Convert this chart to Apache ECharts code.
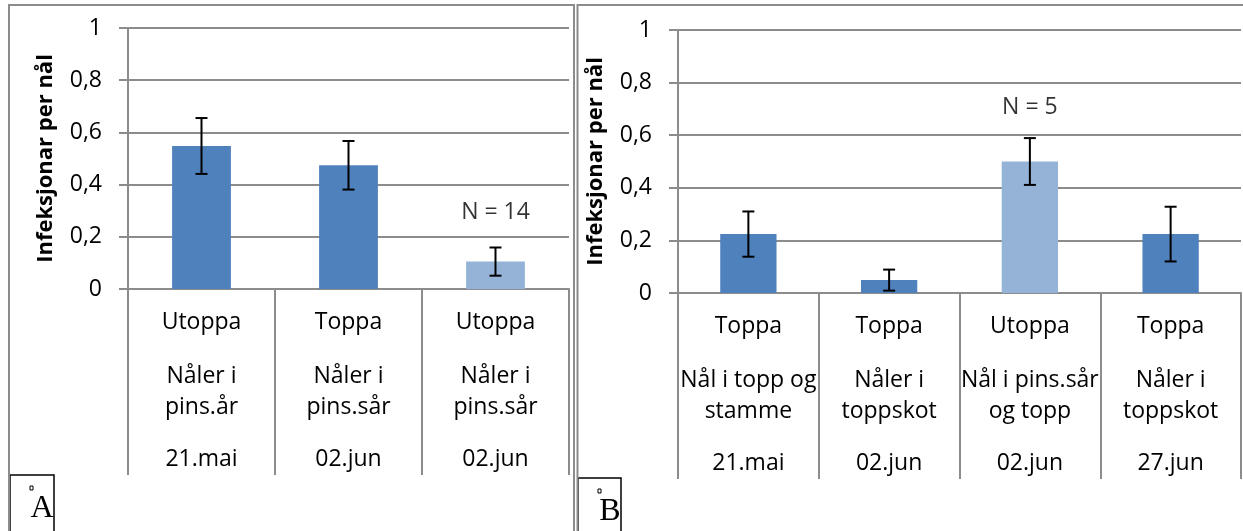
<!DOCTYPE html>
<html>
<head>
<meta charset="utf-8">
<script src="https://cdn.jsdelivr.net/npm/echarts@6/dist/echarts.min.js"></script>
<style>
  html, body { margin: 0; padding: 0; background: #fff; }
  #chart { width: 1243px; height: 531px; }
</style>
</head>
<body>
<div id="chart"></div>
<script>
// Panel A: needles sampled 21 May / 2 June
const aTreatment = ['Utoppa', 'Toppa', 'Utoppa'];
const aNeedles = ['Nåler i\npins.år', 'Nåler i\npins.sår', 'Nåler i\npins.sår'];
const aDates = ['21.mai', '02.jun', '02.jun'];
const aMeans = [0.548, 0.474, 0.105];
const aErrors = [0.107, 0.093, 0.054];
const aNoteText = 'N = 14';
const aNoteAt = [2, 0.295];

// Panel B: needles from tops, stems and shoots
const bTreatment = ['Toppa', 'Toppa', 'Utoppa', 'Toppa'];
const bNeedles = ['Nål i topp og\nstamme', 'Nåler i\ntoppskot', 'Nål i pins.sår\nog topp', 'Nåler i\ntoppskot'];
const bDates = ['21.mai', '02.jun', '02.jun', '27.jun'];
const bMeans = [0.224, 0.049, 0.500, 0.224];
const bErrors = [0.086, 0.040, 0.089, 0.104];
const bNoteText = 'N = 5';
const bNoteAt = [2, 0.707];

const yTickLabels = ['0', '0,2', '0,4', '0,6', '0,8', '1'];
const yTitle = 'Infeksjonar per nål';

const FONT = 'Open Sans';
const TEXT_SIZE = 23;
const GRID_GRAY = '#8c8c8c';
const DARK = '#4f81bd';
const LIGHT = '#95b3d7';

function levelAxes(gridIndex, levels) {
  const margins = [18, 72, 155];
  return levels.map((labels, lvl) => ({
    type: 'category',
    gridIndex: gridIndex,
    data: labels,
    position: 'bottom',
    boundaryGap: true,
    axisLine: { show: lvl === 0, lineStyle: { color: GRID_GRAY, width: 2 } },
    axisTick: { show: lvl === 0, length: 186, interval: 0, lineStyle: { color: GRID_GRAY, width: 2 } },
    splitLine: { show: false },
    axisLabel: {
      show: true, interval: 0, margin: margins[lvl],
      fontFamily: FONT, fontSize: TEXT_SIZE, color: '#000', lineHeight: 31, align: 'center'
    }
  }));
}

function yAxisFor(gridIndex) {
  return {
    type: 'value', gridIndex: gridIndex, min: 0, max: 1, interval: 0.2,
    name: yTitle, nameLocation: 'middle', nameGap: 71, nameRotate: 90,
    nameTextStyle: { fontFamily: FONT, fontSize: 22, fontWeight: 'bold', color: '#000' },
    axisLine: { show: true, lineStyle: { color: GRID_GRAY, width: 2 } },
    axisTick: { show: true, length: 9, lineStyle: { color: GRID_GRAY, width: 2 } },
    splitLine: { show: true, lineStyle: { color: GRID_GRAY, width: 2 } },
    axisLabel: {
      margin: 26, fontFamily: FONT, fontSize: TEXT_SIZE, color: '#000',
      formatter: v => yTickLabels[Math.round(v / 0.2)]
    }
  };
}

function barSeries(xi, yi, means, noteIndex) {
  return {
    type: 'bar', xAxisIndex: xi, yAxisIndex: yi, barWidth: '40%',
    data: means.map((v, i) => ({ value: v, itemStyle: { color: i === noteIndex ? LIGHT : DARK } })),
    silent: true, z: 2
  };
}

function errorSeries(xi, yi, means, errors) {
  return {
    type: 'custom', xAxisIndex: xi, yAxisIndex: yi, z: 5, silent: true,
    encode: { x: 0, y: [1, 2] },
    data: means.map((m, i) => [i, m - errors[i], m + errors[i]]),
    renderItem: function (params, api) {
      const x = api.value(0);
      const lo = api.coord([x, api.value(1)]);
      const hi = api.coord([x, api.value(2)]);
      const cap = 6;
      const style = { stroke: '#000', lineWidth: 2 };
      return {
        type: 'group',
        children: [
          { type: 'line', shape: { x1: lo[0], y1: lo[1], x2: hi[0], y2: hi[1] }, style: style },
          { type: 'line', shape: { x1: hi[0] - cap, y1: hi[1], x2: hi[0] + cap, y2: hi[1] }, style: style },
          { type: 'line', shape: { x1: lo[0] - cap, y1: lo[1], x2: lo[0] + cap, y2: lo[1] }, style: style }
        ]
      };
    }
  };
}

function noteSeries(xi, yi, at, text) {
  return {
    type: 'scatter', xAxisIndex: xi, yAxisIndex: yi, symbolSize: 0, silent: true, z: 6,
    data: [at],
    label: {
      show: true, position: 'inside', formatter: text,
      fontFamily: FONT, fontSize: TEXT_SIZE, color: '#000'
    }
  };
}

// Panel frames and the A / B tags
function tag(x, y, w, h, letter) {
  return {
    type: 'group', x: x, y: y, z: 100,
    children: [
      { type: 'rect', shape: { x: 0, y: 0, width: w, height: h }, style: { fill: '#fff', stroke: '#000', lineWidth: 1.5 } },
      { type: 'rect', shape: { x: 20, y: 11, width: 3, height: 4 }, style: { fill: '#fff', stroke: '#000', lineWidth: 1 } },
      { type: 'text', x: 32, y: 34, style: { text: letter, font: '32px "Liberation Serif"', fill: '#000', align: 'center', verticalAlign: 'middle' } }
    ]
  };
}

const chart = echarts.init(document.getElementById('chart'), null, { renderer: 'canvas' });
chart.setOption({
  animation: false,
  backgroundColor: '#fff',
  grid: [
    { left: 128, top: 28, width: 441, height: 261 },
    { left: 678, top: 30, width: 563, height: 263 }
  ],
  xAxis: [
    ...levelAxes(0, [aTreatment, aNeedles, aDates]),
    ...levelAxes(1, [bTreatment, bNeedles, bDates])
  ],
  yAxis: [yAxisFor(0), yAxisFor(1)],
  series: [
    barSeries(0, 0, aMeans, aNoteAt[0]),
    errorSeries(0, 0, aMeans, aErrors),
    noteSeries(0, 0, aNoteAt, aNoteText),
    barSeries(3, 1, bMeans, bNoteAt[0]),
    errorSeries(3, 1, bMeans, bErrors),
    noteSeries(3, 1, bNoteAt, bNoteText)
  ],
  graphic: [
    { type: 'rect', z: 90, shape: { x: 9, y: 5, width: 565, height: 600 }, style: { fill: 'none', stroke: GRID_GRAY, lineWidth: 2 } },
    { type: 'rect', z: 90, shape: { x: 577.5, y: 5, width: 700, height: 600 }, style: { fill: 'none', stroke: GRID_GRAY, lineWidth: 2 } },
    tag(10, 475, 44, 58, 'A'),
    tag(578, 478, 43, 58, 'B')
  ]
});
</script>
</body>
</html>
